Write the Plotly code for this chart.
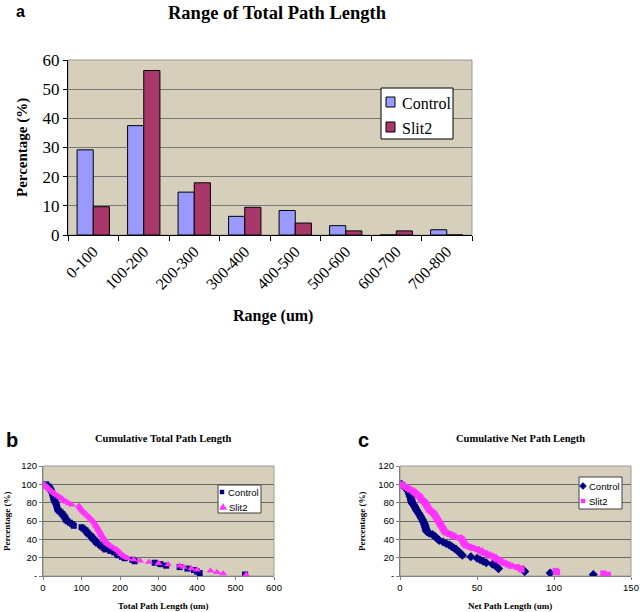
import plotly.graph_objects as go

# ---------------- Data ----------------
categories = ["0-100", "100-200", "200-300", "300-400", "400-500", "500-600", "600-700", "700-800"]
control_pct = [29.2, 37.5, 14.7, 6.4, 8.4, 3.2, 0, 1.8]
slit2_pct = [9.7, 56.4, 17.9, 9.5, 4.1, 1.4, 1.4, 0]

# Cumulative percentages (Control, 62 cells)
control_cum_y = [100, 98.4, 96.8, 95.2, 93.5, 91.9, 90.3, 88.7, 87.1, 85.5, 83.9, 82.3, 80.6, 79, 77.4,
                 75.8, 74.2, 72.6, 71, 69.4, 67.7, 66.1, 64.5, 62.9, 61.3, 59.7, 58.1, 56.5, 54.8, 53.2,
                 51.6, 50, 48.4, 46.8, 45.2, 43.5, 41.9, 40.3, 38.7, 37.1, 35.5, 33.9, 32.3, 30.6, 29,
                 27.4, 25.8, 24.2, 22.6, 21, 19.4, 17.7, 16.1, 14.5, 12.9, 11.3, 9.7, 8.1, 6.5, 4.8,
                 3.2, 1.6]
control_total_x = [8, 12, 16, 19, 21, 23, 24, 25, 26, 27, 28, 30, 32, 34, 35, 36, 37, 38, 42, 46, 50,
                   53, 56, 58, 60, 64, 70, 76, 80, 100, 105, 110, 113, 116, 120, 125, 128, 131, 135,
                   138, 142, 148, 152, 158, 162, 175, 185, 192, 196, 205, 212, 232, 238, 290, 305,
                   320, 355, 375, 392, 400, 407, 525]
control_net_x = [1, 2, 3, 4, 5, 5.5, 6, 6.3, 6.6, 7, 7.2, 7.4, 7.6, 8, 9, 9.5, 10, 10.5, 11, 11.8,
                 12.4, 13, 13.5, 14, 14.6, 15, 15.5, 16, 16.2, 16.5, 16.8, 17, 17.5, 19, 21, 22.5,
                 23.5, 24.5, 25.5, 28, 30, 32, 33.5, 35, 36.5, 37.5, 38.5, 39.5, 40.5, 46, 50, 52,
                 54, 56, 60, 62, 63, 64, 80, 81, 97.5, 125.5]

# Cumulative percentages (Slit2, 72 cells)
slit2_cum_y = [100, 98.6, 97.2, 95.8, 94.4, 93.1, 91.7, 90.3, 88.9, 87.5, 86.1, 84.7, 83.3, 81.9, 80.6,
               79.2, 77.8, 76.4, 75, 73.6, 72.2, 70.8, 69.4, 68.1, 66.7, 65.3, 63.9, 62.5, 61.1, 59.7,
               58.3, 56.9, 55.6, 54.2, 52.8, 51.4, 50, 48.6, 47.2, 45.8, 44.4, 43.1, 41.7, 40.3, 38.9,
               37.5, 36.1, 34.7, 33.3, 31.9, 30.6, 29.2, 27.8, 26.4, 25, 23.6, 22.2, 20.8, 19.4, 18.1,
               16.7, 15.3, 13.9, 12.5, 11.1, 9.7, 8.3, 6.9, 5.6, 4.2, 2.8, 1.4]
slit2_total_x = [2, 6, 10, 14, 17, 21, 25, 29, 33, 38, 43, 48, 52, 57, 62, 68, 75, 93, 96, 98, 100,
                 103, 106, 110, 113, 117, 121, 124, 127, 130, 133, 135, 137, 139, 141, 143, 145, 147,
                 149, 150, 152, 155, 157, 158, 160, 162, 166, 170, 174, 179, 184, 190, 194, 198, 201,
                 204, 208, 213, 220, 235, 252, 275, 300, 325, 355, 365, 385, 400, 435, 452, 468, 528]
slit2_net_x = [1, 2, 3.5, 5, 6.5, 8, 9, 10, 11, 12, 13, 13.5, 14, 15, 16, 16.5, 17, 17.5, 18, 18.5,
               19, 20, 21, 22, 22.5, 23, 23.5, 24, 24.5, 25, 25.5, 26, 26.5, 27, 27.5, 28, 28.5, 29,
               30, 32, 34, 35, 39, 40, 40.5, 41, 41.5, 42, 43, 45, 47, 50, 52, 53, 55, 57, 59, 61,
               62, 63, 65, 66, 68, 70, 72, 76, 78, 79, 101, 102, 132, 135]

pct_ticks = [0, 20, 40, 60, 80, 100, 120]
pct_ticktext = ["-", "20", "40", "60", "80", "100", "120"]

# ---------------- Style ----------------
SERIF = "Liberation Serif"
SANS = "Liberation Sans"
BG = "#d5cfbb"
NAVY = "#000080"
MAGENTA = "#ff33ff"
CTRL_BAR = "#9999ff"
SLIT_BAR = "#a8386a"

W, H = 640, 612


def PX(x):
    return x / W


def PY(y):
    return 1 - y / H


def xdom(a, b):
    return [PX(a), PX(b)]


def ydom(top, bottom):
    return [PY(bottom), PY(top)]


fig = go.Figure()

fig.add_trace(go.Bar(x=categories, y=control_pct, name="Control", xaxis="x", yaxis="y",
                     marker=dict(color=CTRL_BAR, line=dict(color="black", width=1))))
fig.add_trace(go.Bar(x=categories, y=slit2_pct, name="Slit2", xaxis="x", yaxis="y",
                     marker=dict(color=SLIT_BAR, line=dict(color="black", width=1))))

fig.add_trace(go.Scatter(x=control_total_x, y=control_cum_y, mode="markers", name="Control",
                         xaxis="x2", yaxis="y2",
                         marker=dict(symbol="square", size=6, color=NAVY)))
fig.add_trace(go.Scatter(x=slit2_total_x, y=slit2_cum_y, mode="markers", name="Slit2",
                         xaxis="x2", yaxis="y2",
                         marker=dict(symbol="triangle-up", size=7, color=MAGENTA)))

fig.add_trace(go.Scatter(x=control_net_x, y=control_cum_y, mode="markers", name="Control",
                         xaxis="x3", yaxis="y3",
                         marker=dict(symbol="diamond", size=7, color=NAVY)))
fig.add_trace(go.Scatter(x=slit2_net_x, y=slit2_cum_y, mode="markers", name="Slit2",
                         xaxis="x3", yaxis="y3",
                         marker=dict(symbol="square", size=6, color=MAGENTA)))

small_tick = dict(family=SANS, size=9.5, color="black")

fig.update_layout(
    width=W, height=H,
    margin=dict(l=0, r=0, t=0, b=0, autoexpand=False),
    paper_bgcolor="white", plot_bgcolor=BG,
    bargap=0.36, bargroupgap=0,
    showlegend=False,
    xaxis=dict(domain=xdom(68, 472), anchor="y", type="category",
               tickson="boundaries", ticks="outside", ticklen=5, tickcolor="black",
               showline=True, linecolor="black", linewidth=1, showgrid=False,
               tickangle=-45, tickfont=dict(family=SERIF, size=16, color="black")),
    yaxis=dict(domain=ydom(60, 235), anchor="x", range=[0, 60], dtick=10,
               ticks="outside", ticklen=4, tickcolor="black",
               showline=True, linecolor="black", linewidth=1,
               gridcolor="#7a7a72", gridwidth=1, zeroline=False,
               tickfont=dict(family=SERIF, size=17, color="black")),
    xaxis2=dict(domain=xdom(43, 274), anchor="y2", range=[0, 600], dtick=100,
                ticks="outside", ticklen=3, tickcolor="#808080",
                showline=True, linecolor="#808080", showgrid=False, zeroline=False,
                tickfont=small_tick),
    yaxis2=dict(domain=ydom(466, 576), anchor="x2", range=[0, 120],
                tickvals=pct_ticks, ticktext=pct_ticktext,
                ticks="outside", ticklen=3, tickcolor="#808080",
                showline=True, linecolor="#808080", gridcolor="#6a6a64", zeroline=False,
                tickfont=small_tick),
    xaxis3=dict(domain=xdom(400, 631), anchor="y3", range=[0, 150], dtick=50,
                ticks="outside", ticklen=3, tickcolor="#808080",
                showline=True, linecolor="#808080", showgrid=False, zeroline=False,
                tickfont=small_tick),
    yaxis3=dict(domain=ydom(466, 576), anchor="x3", range=[0, 120],
                tickvals=pct_ticks, ticktext=pct_ticktext,
                ticks="outside", ticklen=3, tickcolor="#808080",
                showline=True, linecolor="#808080", gridcolor="#6a6a64", zeroline=False,
                tickfont=small_tick),
)

# plot-area borders (light gray right/top edges)
for xr, yr in [("x", "y"), ("x2", "y2"), ("x3", "y3")]:
    fig.add_shape(type="rect", xref=f"{xr} domain", yref=f"{yr} domain", x0=0, x1=1, y0=0, y1=1,
                  line=dict(color="#9a9a9a", width=1), fillcolor="rgba(0,0,0,0)", layer="below")


def ann(text, x, y, size, family=SERIF, bold=True, angle=0, xanchor="center"):
    t = f"<b>{text}</b>" if bold else text
    fig.add_annotation(text=t, x=PX(x), y=PY(y), xref="paper", yref="paper",
                       showarrow=False, textangle=angle, xanchor=xanchor, yanchor="middle",
                       font=dict(family=family, size=size, color="black"))


def box(x0, y0, x1, y1, fill, line="black", width=1):
    fig.add_shape(type="rect", xref="paper", yref="paper", x0=PX(x0), x1=PX(x1),
                  y0=PY(y1), y1=PY(y0), fillcolor=fill, line=dict(color=line, width=width))


def poly(points, fill):
    d = "M " + " L ".join(f"{PX(x)},{PY(y)}" for x, y in points) + " Z"
    fig.add_shape(type="path", xref="paper", yref="paper", path=d, fillcolor=fill,
                  line=dict(color=fill, width=0.5))


# Titles and labels
ann("a", 20, 11, 16, family=SANS)
ann("Range of Total Path Length", 277, 13, 18.5)
ann("Percentage (%)", 22, 148, 15, angle=-90)
ann("Range (um)", 273, 316, 16)

ann("b", 12, 440, 20, family=SANS)
ann("Cumulative Total Path Length", 163, 438, 10.5)
ann("Percentage (%)", 7, 521, 9, angle=-90)
ann("Total Path Length (um)", 163, 606, 9)

ann("c", 363, 440, 20, family=SANS)
ann("Cumulative Net Path Length", 520, 438, 10.5)
ann("Percentage (%)", 362, 521, 9, angle=-90)
ann("Net Path Length (um)", 510, 606, 9)

# Legend panel a
box(381, 88, 453, 139, "white", "black", 1)
box(386, 97, 395, 107, CTRL_BAR, "black", 1)
box(386, 122, 395, 132, SLIT_BAR, "black", 1)
ann("Control", 400, 103, 16, bold=False, xanchor="left")
ann("Slit2", 400, 128, 16, bold=False, xanchor="left")

# Legend panel b
box(218, 485, 261, 513, "white", "#404040", 1)
box(220, 490, 224, 494, NAVY, NAVY, 0.5)
poly([(219.5, 509.5), (226.5, 509.5), (223, 503.5)], MAGENTA)
ann("Control", 226, 492, 9.5, family=SANS, bold=False, xanchor="left")
ann("Slit2", 227, 507, 9.5, family=SANS, bold=False, xanchor="left")

# Legend panel c
box(579, 477, 622, 509, "white", "#404040", 1)
poly([(583, 482.5), (586.5, 486), (583, 489.5), (579.5, 486)], NAVY)
box(581, 499, 585, 503, MAGENTA, MAGENTA, 0.5)
ann("Control", 587, 486, 9.5, family=SANS, bold=False, xanchor="left")
ann("Slit2", 587, 501, 9.5, family=SANS, bold=False, xanchor="left")

# Remove the default 8px page margin so the 640x612 figure fills the window exactly.
fig.write_html("out.html", config={"displayModeBar": False},
               post_script="document.body.style.margin='0';")
